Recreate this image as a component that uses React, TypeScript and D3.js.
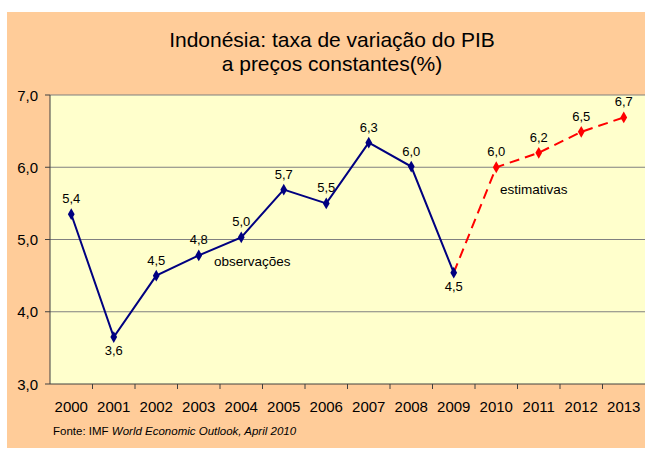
import { line, scaleBand, scaleLinear, symbol, symbolDiamond } from 'd3'

const YEARS = ['2000', '2001', '2002', '2003', '2004', '2005', '2006', '2007', '2008', '2009', '2010', '2011', '2012', '2013']
const OBSERVED = [5.35, 3.65, 4.5, 4.78, 5.03, 5.69, 5.5, 6.34, 6.01, 4.54]
const ESTIMATED = [4.54, 6.0, 6.2, 6.49, 6.69]
const VALUE_LABELS = ['5,4', '3,6', '4,5', '4,8', '5,0', '5,7', '5,5', '6,3', '6,0', '4,5', '6,0', '6,2', '6,5', '6,7']
const LABEL_BELOW = [false, true, false, false, false, false, false, false, false, true, false, false, false, false]
const Y_TICKS = [3, 4, 5, 6, 7]

const WIDTH = 645
const HEIGHT = 449
const PLOT = { left: 50, right: 645, top: 95, bottom: 384 }
const FONT = '"Liberation Sans", Arial, sans-serif'

export default function App() {
  const x = scaleBand<string>().domain(YEARS).range([PLOT.left, PLOT.right])
  const y = scaleLinear().domain([3, 7]).range([PLOT.bottom, PLOT.top])
  const cx = (year: string) => (x(year) ?? 0) + x.bandwidth() / 2

  const observedPts = OBSERVED.map((v, i) => ({ year: YEARS[i], v }))
  const estimatedPts = ESTIMATED.map((v, i) => ({ year: YEARS[i + 9], v }))
  const path = line<{ year: string; v: number }>()
    .x((d) => cx(d.year))
    .y((d) => y(d.v))
  const diamond = symbol().type(symbolDiamond).size(40)()
  const allValues = [...OBSERVED, ...ESTIMATED.slice(1)]

  return (
    <svg
      width={WIDTH}
      height={HEIGHT}
      style={{ position: 'absolute', left: 0, top: 0, display: 'block' }}
      fontFamily={FONT}
    >
      <rect x={0} y={0} width={WIDTH} height={HEIGHT} fill="#ffffff" />
      <rect x={7} y={12} width={WIDTH - 7} height={436} fill="#ffcc99" />

      <text x={332} y={47} textAnchor="middle" fontSize={21} fill="#000">
        Indonésia: taxa de variação do PIB
      </text>
      <text x={332} y={71} textAnchor="middle" fontSize={21} fill="#000">
        a preços constantes(%)
      </text>

      <rect
        x={PLOT.left}
        y={PLOT.top}
        width={PLOT.right - PLOT.left}
        height={PLOT.bottom - PLOT.top}
        fill="#ffffcc"
      />

      {Y_TICKS.map((t) => (
        <g key={t}>
          {t > 3 ? (
            <line x1={PLOT.left} x2={PLOT.right} y1={y(t)} y2={y(t)} stroke="#808080" strokeWidth={1.2} />
          ) : null}
          <line x1={PLOT.left - 5} x2={PLOT.left} y1={y(t)} y2={y(t)} stroke="#404040" />
          <text x={PLOT.left - 12} y={y(t) + 5.5} textAnchor="end" fontSize={15} fill="#000">
            {t.toFixed(1).replace('.', ',')}
          </text>
        </g>
      ))}

      <line x1={PLOT.left} x2={PLOT.left} y1={PLOT.top} y2={PLOT.bottom} stroke="#404040" />
      <line x1={PLOT.left} x2={PLOT.right} y1={PLOT.bottom} y2={PLOT.bottom} stroke="#404040" />

      {YEARS.map((yr, i) => (
        <g key={yr}>
          {i > 0 ? (
            <line
              x1={x(yr) ?? 0}
              x2={x(yr) ?? 0}
              y1={PLOT.bottom}
              y2={PLOT.bottom + 5}
              stroke="#404040"
            />
          ) : null}
          <text x={cx(yr)} y={PLOT.bottom + 28} textAnchor="middle" fontSize={15} fill="#000">
            {yr}
          </text>
        </g>
      ))}

      <path
        d={path(estimatedPts) ?? ''}
        fill="none"
        stroke="#ff0000"
        strokeWidth={2}
        strokeDasharray="10 6"
      />
      <path d={path(observedPts) ?? ''} fill="none" stroke="#000080" strokeWidth={2} />

      {observedPts.map((d) => (
        <path key={`o${d.year}`} d={diamond} transform={`translate(${cx(d.year)},${y(d.v)})`} fill="#000080" />
      ))}
      {estimatedPts.slice(1).map((d) => (
        <path key={`e${d.year}`} d={diamond} transform={`translate(${cx(d.year)},${y(d.v)})`} fill="#ff0000" />
      ))}

      {allValues.map((v, i) => (
        <text
          key={`l${i}`}
          x={cx(YEARS[i])}
          y={LABEL_BELOW[i] ? y(v) + 18 : y(v) - 11}
          textAnchor="middle"
          fontSize={13}
          fill="#000"
        >
          {VALUE_LABELS[i]}
        </text>
      ))}

      <text x={214} y={266} fontSize={13.5} fill="#000">
        observações
      </text>
      <text x={500} y={194} fontSize={13.5} fill="#000">
        estimativas
      </text>

      <text x={53} y={435} fontSize={11.5} fill="#000">
        Fonte: IMF <tspan fontStyle="italic">World Economic Outlook, April 2010</tspan>
      </text>
    </svg>
  )
}
